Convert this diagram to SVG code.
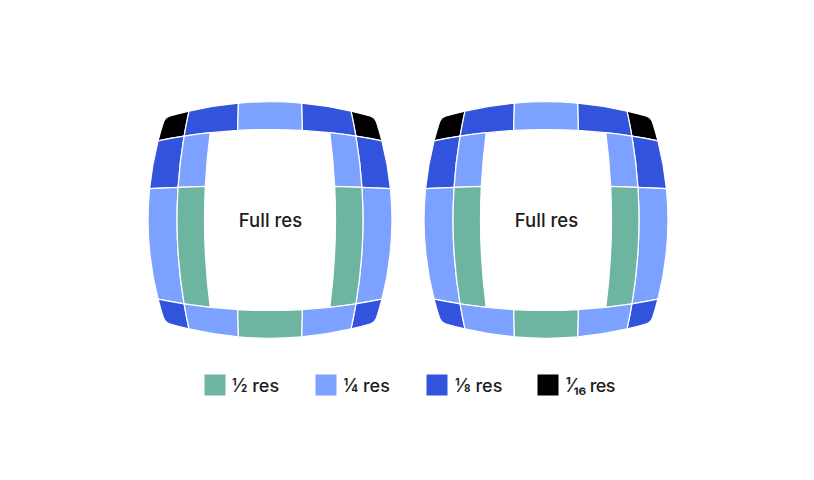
<svg xmlns="http://www.w3.org/2000/svg" xmlns:xlink="http://www.w3.org/1999/xlink" width="814" height="480" viewBox="0 0 814 480">
<style>
.cell{stroke:#fff;stroke-width:1.2;stroke-linejoin:round}
.g{fill:#6DB5A0}
.l{fill:#7DA1FF}
.d{fill:#3254DC}
.k{fill:#000}
.t{font-family:Inter,"Noto Sans","DejaVu Sans",sans-serif;font-weight:500;fill:#1c1c1c}
</style>
<defs>
<g id="half">
<path class="cell k" d="M163.2,123 Q164.95,117.5 170,116 Q179.5,113.27 189,111.1 Q186.22,123.65 184.1,136.2 Q171.1,138.19 158.1,140.8 Q160.39,131.9 163.2,123 Z"/>
<path class="cell d" d="M189,111.1 Q213.7,105.36 238.4,103.2 L237.7,130.4 Q210.9,132 184.1,136.2 Q186.22,123.65 189,111.1 Z"/>
<path class="cell d" d="M158.1,140.8 Q152,164.75 149.6,188.7 L178.1,187.4 Q179.76,161.8 184.1,136.2 Q171.1,138.19 158.1,140.8 Z"/>
<path class="cell l" d="M149.6,188.7 Q144,243.95 158.1,299.2 Q171.1,301.81 184.1,303.8 Q174.24,245.6 178.1,187.4 Z"/>
<path class="cell l" d="M184.1,136.2 Q197.15,134.14 210.2,132.7 Q206.69,159.5 205.3,186.3 L178.1,187.4 Q179.76,161.8 184.1,136.2 Z"/>
<path class="cell g" d="M178.1,187.4 L205.3,186.3 Q202.31,246.8 210.2,307.3 Q197.15,305.86 184.1,303.8 Q174.24,245.6 178.1,187.4 Z"/>
<path class="cell d" d="M158.1,299.2 Q171.1,301.81 184.1,303.8 Q186.22,316.35 189,328.9 Q179.5,326.73 170,324 Q164.95,322.5 163.2,317 Q160.39,308.1 158.1,299.2 Z"/>
<path class="cell l" d="M184.1,303.8 Q210.9,308 237.7,309.6 L238.4,336.8 Q213.7,334.64 189,328.9 Q186.22,316.35 184.1,303.8 Z"/>
</g>
<g id="lens">
<use xlink:href="#half"/>
<use xlink:href="#half" transform="translate(540,0) scale(-1,1)"/>
<path class="cell l" d="M238.4,103.2 Q270,100.27 301.6,103.2 L302.3,130.4 Q270,128.56 237.7,130.4 Z"/>
<path class="cell g" d="M237.7,309.6 Q270,311.44 302.3,309.6 L301.6,336.8 Q270,339.73 238.4,336.8 Z"/>
</g>
</defs>
<g id="lens-left">
<use xlink:href="#lens"/>
<text class="t" x="270.5" y="226.5" font-size="18.5" text-anchor="middle">Full res</text>
</g>
<g id="lens-right">
<use xlink:href="#lens" transform="translate(276,0)"/>
<text class="t" x="546.5" y="226.5" font-size="18.5" text-anchor="middle">Full res</text>
</g>
<g id="legend">
<g id="legend-half"><rect class="g" x="204.5" y="374.5" width="21" height="21"/><text class="t" x="232" y="391.5" font-size="18">½ res</text></g>
<g id="legend-quarter"><rect class="l" x="315.5" y="374.5" width="21" height="21"/><text class="t" x="343.5" y="391.5" font-size="18">¼ res</text></g>
<g id="legend-eighth"><rect class="d" x="426.5" y="374.5" width="21" height="21"/><text class="t" x="455" y="391.5" font-size="18">⅛ res</text></g>
<g id="legend-sixteenth"><rect class="k" x="537.5" y="374.5" width="21" height="21"/><text class="t" x="565.5" y="391.5" font-size="18" letter-spacing="-0.7">¹⁄₁₆ res</text></g>
</g>
</svg>
